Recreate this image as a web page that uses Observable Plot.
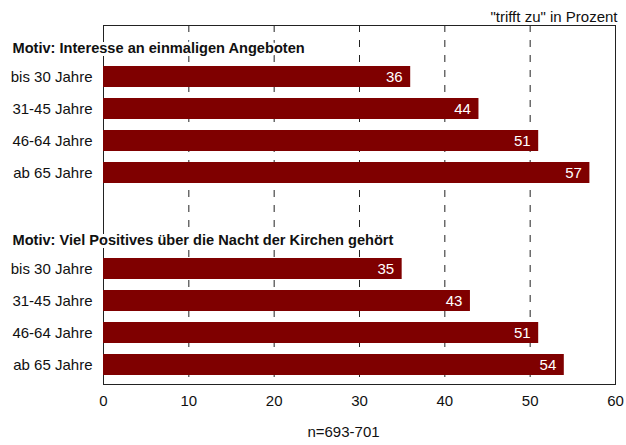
<!DOCTYPE html>
<html>
<head>
<meta charset="utf-8">
<script src="https://cdn.jsdelivr.net/npm/d3@7"></script>
<script src="https://cdn.jsdelivr.net/npm/@observablehq/plot@0.6"></script>
<style>
  body { margin: 0; background: #fff; }
  #chart svg { display: block; }
</style>
</head>
<body>
<div id="chart"></div>
<script>
const ageGroups = ["bis 30 Jahre", "31-45 Jahre", "46-64 Jahre", "ab 65 Jahre"];
const motives = [
  "Motiv: Interesse an einmaligen Angeboten",
  "Motiv: Viel Positives über die Nacht der Kirchen gehört"
];
const valuesInteresse = [36, 44, 51, 57];
const valuesPositives = [35, 43, 51, 54];
const xTicks = [0, 10, 20, 30, 40, 50, 60];
const gridTicks = [10, 20, 30, 40, 50];
const unitNote = "\"trifft zu\" in Prozent";
const sampleNote = "n=693-701";

const seriesValues = [valuesInteresse, valuesPositives];

// y domain: title slot, 4 bars, gap slot, title slot, 4 bars
const domain = [];
const bars = [];
const titles = [];
motives.forEach((m, gi) => {
  if (gi > 0) domain.push("gap" + gi);
  const tKey = "title" + gi;
  domain.push(tKey);
  titles.push({key: tKey, label: m});
  ageGroups.forEach((a, i) => {
    const key = gi + "|" + a;
    domain.push(key);
    bars.push({key, age: a, value: seriesValues[gi][i]});
  });
});

const font = "'Liberation Sans', Arial, Helvetica, sans-serif";
const fs = 15;

const chart = Plot.plot({
  width: 626,
  height: 445,
  marginTop: 25,
  marginBottom: 61,
  marginLeft: 103,
  marginRight: 11,
  style: {fontFamily: font, fontSize: fs + "px", color: "#111", background: "#fff"},
  x: {domain: [0, 60], ticks: xTicks, label: null},
  y: {domain, paddingInner: 0.33, paddingOuter: 0.16, label: null},
  marks: [
    Plot.ruleX(gridTicks, {stroke: "#222", strokeWidth: 1, strokeDasharray: "7,8"}),
    Plot.frame({stroke: "#222", strokeWidth: 1}),
    Plot.barX(bars, {x: "value", y: "key", fill: "#7f0000"}),
    Plot.text(bars, {
      x: "value", y: "key", text: d => String(d.value),
      textAnchor: "end", dx: -8, fill: "#fff", fontSize: fs
    }),
    Plot.text(titles, {
      y: "key", text: "label", frameAnchor: "left", textAnchor: "start",
      dx: -91, dy: 3, fontWeight: "bold", fontSize: 14.6, fill: "#111",
      stroke: "#fff", strokeWidth: 6, paintOrder: "stroke"
    }),
    Plot.axisY({
      label: null, tickSize: 0, tickPadding: 11, fontSize: fs,
      tickFormat: k => k.includes("|") ? k.split("|")[1] : ""
    }),
    Plot.axisX({label: null, ticks: xTicks, tickSize: 0, tickPadding: 11, fontSize: fs, anchor: "bottom"}),
    Plot.text([unitNote], {
      frameAnchor: "top-right", textAnchor: "end", dx: 2, dy: -14,
      fontSize: fs, fill: "#111"
    }),
    Plot.text([sampleNote], {
      frameAnchor: "bottom", dx: -16, dy: 52, fontSize: fs, fill: "#111"
    })
  ]
});

document.getElementById("chart").appendChild(chart);
</script>
</body>
</html>
